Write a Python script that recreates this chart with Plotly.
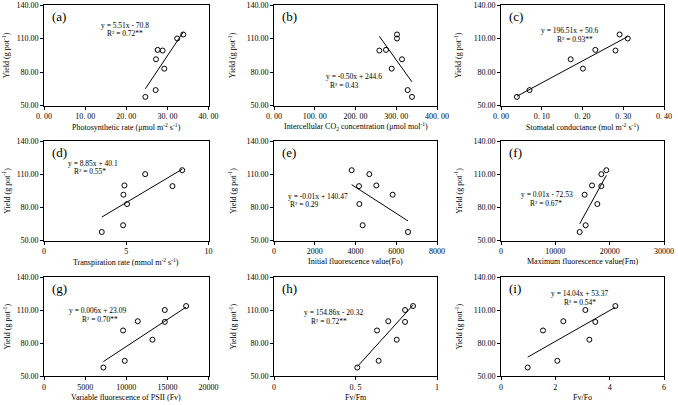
import plotly.graph_objects as go

# ---- data ----
yield_vals = [57.7, 63.8, 83.0, 91.4, 99.8, 99.2, 110.0, 113.6]

pn = [24.65, 27.15, 29.25, 27.23, 27.64, 28.85, 32.4, 33.86]
ci = [338.6, 328.0, 288.8, 314.1, 274.8, 258.5, 301.8, 301.8]
gs = [0.039, 0.070, 0.201, 0.171, 0.2315, 0.281, 0.311, 0.291]
tr = [3.51, 4.81, 5.05, 4.83, 4.89, 7.81, 6.15, 8.40]
fo = [6577, 4352, 4188, 5824, 5022, 4172, 4679, 3812]
fm = [14479, 15583, 17730, 15399, 16748, 18466, 18466, 19387]
fv = [7221, 9817, 13185, 9615, 11400, 14686, 14686, 17282]
fvfm = [0.511, 0.642, 0.753, 0.632, 0.701, 0.804, 0.804, 0.853]
fvfo = [0.982, 2.074, 3.252, 1.546, 2.294, 3.472, 3.104, 4.209]

slopes = [5.51, -0.509, 196.51, 8.85, -0.01187, 0.008915, 0.00492, 163.6, 14.04]
intercepts = [-70.8, 243.5, 50.6, 40.1, 145.75, -63.98, 27.57, -25.1, 53.37]

panel_labels = ["(a)", "(b)", "(c)", "(d)", "(e)", "(f)", "(g)", "(h)", "(i)"]
equations = ["y = 5.51x - 70.8", "y = -0.50x + 244.6", "y = 196.51x + 50.6",
             "y = 8.85x + 40.1", "y = -0.01x + 140.47", "y = 0.01x - 72.53",
             "y = 0.006x + 23.09", "y = 154.86x - 20.32", "y = 14.04x + 53.37"]
r2_texts = ["R² = 0.72**", "R² = 0.43", "R² = 0.93**", "R² = 0.55*", "R² = 0.29",
            "R² = 0.67*", "R² = 0.70**", "R² = 0.72**", "R² = 0.54*"]
x_titles = ["Photosynthetic rate (μmol m<sup>-2</sup> s<sup>-1</sup>)",
            "Intercellular CO<sub>2</sub> concentration (μmol mol<sup>-1</sup>)",
            "Stomatal conductance (mol m<sup>-2</sup> s<sup>-1</sup>)",
            "Transpiration rate (mmol m<sup>-2</sup> s<sup>-1</sup>)",
            "Initial fluorescence value(Fo)",
            "Maximum fluorescence value(Fm)",
            "Variable fluorescence of PSII (Fv)",
            "Fv/Fm", "Fv/Fo"]
x_ticks = [[0, 10, 20, 30, 40], [0, 100, 200, 300, 400], [0, 0.1, 0.2, 0.3, 0.4],
           [0, 5, 10], [0, 2000, 4000, 6000, 8000], [0, 10000, 20000, 30000],
           [0, 5000, 10000, 15000, 20000], [0, 0.5, 1], [0, 2, 4, 6]]
x_ticktext = [["0. 00", "10. 00", "20. 00", "30. 00", "40. 00"],
              ["0. 00", "100. 00", "200. 00", "300. 00", "400. 00"],
              ["0. 00", "0. 10", "0. 20", "0. 30", "0. 40"],
              ["0", "5", "10"], ["0", "2000", "4000", "6000", "8000"],
              ["0", "10000", "20000", "30000"],
              ["0", "5000", "10000", "15000", "20000"],
              ["0", "0. 5", "1"], ["0", "2", "4", "6"]]
y_ticks = [50, 80, 110, 140]
y_ticktext = ["50.00", "80.00", "110.00", "140.00"]
y_title = "Yield (g pot<sup>-1</sup>)"

xs_all = [pn, ci, gs, tr, fo, fm, fv, fvfm, fvfo]

# ---- layout (pixel geometry) ----
W, H = 678, 405
col_px = [(44, 208.5), (274, 437), (501, 664)]
row_px = [(5, 105.5), (141, 240.5), (277, 376)]
eq_pos = [(125, 25, 125, 33.5), (354, 77, 344, 85.5), (569, 30.5, 575, 39),
          (93, 163, 90, 171.5), (318, 196, 304, 204.5), (547, 195, 546, 203.5),
          (97, 310.5, 100, 319), (333, 312.5, 329, 321), (579, 293.5, 580, 302)]

FONT = "Liberation Serif, Times New Roman, serif"
fig = go.Figure()
annotations = []

for i in range(9):
    r, c = divmod(i, 3)
    xn = "" if i == 0 else str(i + 1)
    xa, ya = "x" + xn, "y" + xn
    xs = xs_all[i]
    fig.add_trace(go.Scatter(x=xs, y=yield_vals, mode="markers", xaxis=xa, yaxis=ya,
                             marker=dict(symbol="circle-open", size=5, color="black",
                                         line=dict(width=1, color="black")),
                             showlegend=False, hoverinfo="skip"))
    x0, x1 = min(xs), max(xs)
    fig.add_trace(go.Scatter(x=[x0, x1],
                             y=[slopes[i] * x0 + intercepts[i], slopes[i] * x1 + intercepts[i]],
                             mode="lines", xaxis=xa, yaxis=ya,
                             line=dict(color="black", width=1),
                             showlegend=False, hoverinfo="skip"))
    cx0, cx1 = col_px[c]
    ry0, ry1 = row_px[r]
    xdom = [cx0 / W, cx1 / W]
    ydom = [1 - ry1 / H, 1 - ry0 / H]
    axis_common = dict(showline=True, linecolor="black", linewidth=1, mirror=True,
                       showgrid=False, zeroline=False, ticks="outside", ticklen=3,
                       tickcolor="black", tickwidth=1, automargin=False,
                       tickfont=dict(family=FONT, size=8, color="black"))
    fig.layout["xaxis" + xn] = dict(domain=xdom, anchor=ya,
                                    range=[x_ticks[i][0], x_ticks[i][-1]],
                                    tickmode="array", tickvals=x_ticks[i],
                                    ticktext=x_ticktext[i], **axis_common)
    fig.layout["yaxis" + xn] = dict(domain=ydom, anchor=xa, range=[50, 140],
                                    tickmode="array", tickvals=y_ticks,
                                    ticktext=y_ticktext, **axis_common)
    # panel letter
    annotations.append(dict(text=panel_labels[i], x=(cx0 + 5.5) / W, y=1 - (ry0 + 11) / H,
                            xref="paper", yref="paper", xanchor="left", yanchor="middle",
                            showarrow=False, font=dict(family=FONT, size=13, color="black")))
    # equations
    ex, ey, rx, rY = eq_pos[i]
    annotations.append(dict(text=equations[i], x=ex / W, y=1 - ey / H, xref="paper",
                            yref="paper", xanchor="center", yanchor="middle",
                            showarrow=False, font=dict(family=FONT, size=7.5, color="black")))
    annotations.append(dict(text=r2_texts[i], x=rx / W, y=1 - rY / H, xref="paper",
                            yref="paper", xanchor="center", yanchor="middle",
                            showarrow=False, font=dict(family=FONT, size=7.5, color="black")))
    # x title
    annotations.append(dict(text=x_titles[i], x=(cx0 + cx1) / 2 / W, y=1 - (ry1 + 21) / H,
                            xref="paper", yref="paper", xanchor="center", yanchor="middle",
                            showarrow=False, font=dict(family=FONT, size=8, color="black")))
    # y title
    annotations.append(dict(text=y_title, x=(c * 226 + 6) / W, y=1 - (ry0 + ry1) / 2 / H,
                            xref="paper", yref="paper", xanchor="center", yanchor="middle",
                            textangle=-90, showarrow=False,
                            font=dict(family=FONT, size=8, color="black")))

fig.update_layout(template="none", width=W, height=H,
                  margin=dict(l=0, r=0, t=0, b=0, autoexpand=False),
                  paper_bgcolor="white", plot_bgcolor="white", showlegend=False,
                  annotations=annotations, font=dict(family=FONT, color="black"))
fig.write_html("out.html", config={"displayModeBar": False},
               post_script="document.body.style.margin='0px';document.body.style.overflow='hidden';")
